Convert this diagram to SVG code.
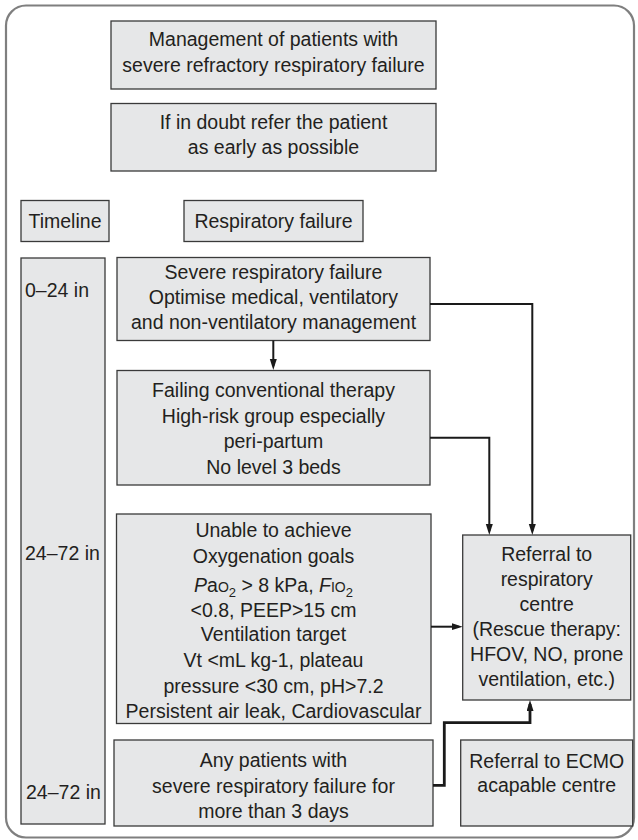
<svg xmlns="http://www.w3.org/2000/svg" width="638" height="840" viewBox="0 0 638 840">
<defs>
<style>
.frame{fill:#ffffff;stroke:#7f7f7f;stroke-width:2.2}
.box{fill:#e6e7e8;stroke:#3a3a3a;stroke-width:1.3}
.t{font-family:"Liberation Sans",Arial,sans-serif;font-size:19.5px;fill:#231f20;text-anchor:middle}
.l{text-anchor:start}
.c{fill:none;stroke:#1a1a1a;stroke-width:2}
.thick{stroke-width:2.8}
</style>
<marker id="ah" markerUnits="userSpaceOnUse" markerWidth="12" markerHeight="8" refX="7" refY="3.5" orient="auto">
<path d="M0,0 L11,3.5 L0,7 z" fill="#1a1a1a"/>
</marker>
</defs>
<rect class="frame" x="6" y="5.5" width="628" height="832" rx="20" ry="20"/>

<g id="title">
<rect class="box" x="111" y="21" width="325" height="68"/>
<text class="t" x="273.5" y="46">Management of patients with</text>
<text class="t" x="273.5" y="72">severe refractory respiratory failure</text>
</g>

<g id="doubt">
<rect class="box" x="111" y="103.5" width="325" height="67.5"/>
<text class="t" x="273.5" y="128.5">If in doubt refer the patient</text>
<text class="t" x="273.5" y="154">as early as possible</text>
</g>

<g id="timeline-head">
<rect class="box" x="21" y="200.5" width="88" height="41"/>
<text class="t" x="65" y="228">Timeline</text>
</g>

<g id="resp-head">
<rect class="box" x="184" y="200.5" width="179" height="41"/>
<text class="t" x="273.5" y="228">Respiratory failure</text>
</g>

<g id="timeline-col">
<rect class="box" x="21" y="258" width="84" height="566"/>
<text class="t l" x="25" y="297">0–24 in</text>
<text class="t l" x="25" y="560">24–72 in</text>
<text class="t l" x="26" y="799">24–72 in</text>
</g>

<g id="severe">
<rect class="box" x="117" y="257.5" width="313" height="83"/>
<text class="t" x="273.5" y="278.5">Severe respiratory failure</text>
<text class="t" x="273.5" y="303.5">Optimise medical, ventilatory</text>
<text class="t" x="273.5" y="329">and non-ventilatory management</text>
</g>

<g id="failing">
<rect class="box" x="117" y="370.5" width="313" height="114.5"/>
<text class="t" x="273.5" y="397">Failing conventional therapy</text>
<text class="t" x="273.5" y="422.5">High-risk group especially</text>
<text class="t" x="273.5" y="448">peri-partum</text>
<text class="t" x="273.5" y="473.5">No level 3 beds</text>
</g>

<g id="unable">
<rect class="box" x="116.5" y="514" width="314.5" height="209.5"/>
<text class="t" x="273.5" y="537">Unable to achieve</text>
<text class="t" x="273.5" y="563">Oxygenation goals</text>
<text class="t" x="273.5" y="592"><tspan font-style="italic">P</tspan>a<tspan font-size="14">O</tspan><tspan font-size="13" dy="5">2</tspan><tspan dy="-5"> &gt; 8 kPa, </tspan><tspan font-style="italic">F</tspan><tspan font-size="14">IO</tspan><tspan font-size="13" dy="5">2</tspan></text>
<text class="t" x="273.5" y="617">&lt;0.8, PEEP&gt;15 cm</text>
<text class="t" x="273.5" y="641">Ventilation target</text>
<text class="t" x="273.5" y="666.5">Vt &lt;mL kg-1, plateau</text>
<text class="t" x="273.5" y="692.5">pressure &lt;30 cm, pH&gt;7.2</text>
<text class="t" x="273.5" y="718">Persistent air leak, Cardiovascular</text>
</g>

<g id="any">
<rect class="box" x="114" y="740" width="319" height="86"/>
<text class="t" x="273.5" y="767">Any patients with</text>
<text class="t" x="273.5" y="792.5">severe respiratory failure for</text>
<text class="t" x="273.5" y="818">more than 3 days</text>
</g>

<g id="referral">
<rect class="box" x="462.7" y="535" width="168" height="165"/>
<text class="t" x="546.7" y="561">Referral to</text>
<text class="t" x="546.7" y="586">respiratory</text>
<text class="t" x="546.7" y="611">centre</text>
<text class="t" x="546.7" y="636">(Rescue therapy:</text>
<text class="t" x="546.7" y="660.5">HFOV, NO, prone</text>
<text class="t" x="546.7" y="685.5">ventilation, etc.)</text>
</g>

<g id="ecmo">
<rect class="box" x="460.7" y="740" width="172" height="86"/>
<text class="t" x="546.7" y="768">Referral to ECMO</text>
<text class="t" x="546.7" y="792">acapable centre</text>
</g>

<g id="connectors">
<path class="c" d="M273.3,340.5 V366" marker-end="url(#ah)"/>
<path class="c" d="M430,304 H532.3 V531" marker-end="url(#ah)"/>
<path class="c" d="M430,437.7 H489.3 V531" marker-end="url(#ah)"/>
<path class="c" d="M431,626.7 H458.7" marker-end="url(#ah)"/>
<path class="c thick" d="M433,785.3 H444.3 V722.7 H530 V704" marker-end="url(#ah)"/>
</g>
</svg>
